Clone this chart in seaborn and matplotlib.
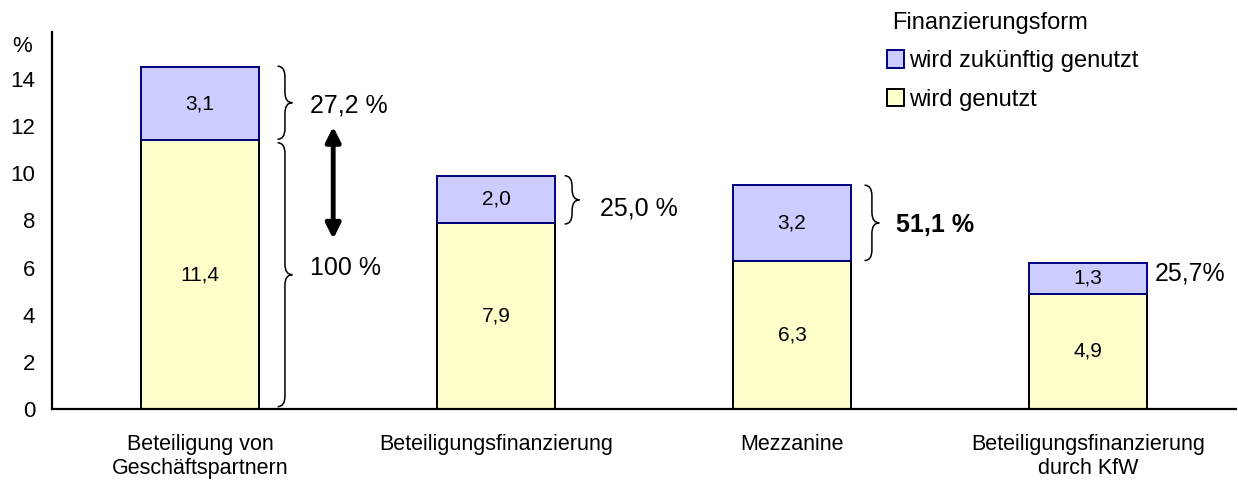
import numpy as np
import pandas as pd
import matplotlib
matplotlib.use("Agg")
import matplotlib.pyplot as plt
from matplotlib.path import Path
from matplotlib.patches import PathPatch, Patch
import seaborn as sns

# ---------- DATA ----------
categories = ["Beteiligung von\nGeschäftspartnern", "Beteiligungsfinanzierung",
              "Mezzanine", "Beteiligungsfinanzierung\ndurch KfW"]
used = [11.4, 7.9, 6.3, 4.9]
future = [3.1, 2.0, 3.2, 1.3]
growth_labels = ["27,2 %", "25,0 %", "51,1 %", "25,7%"]

df = pd.DataFrame({"cat": categories, "used": used, "future": future})
df["total"] = df["used"] + df["future"]

YELLOW = "#FFFFCC"
PURPLE = "#CCCCFF"
NAVY = "#000080"

sns.set_style("white")
plt.rcParams["font.family"] = ["Liberation Sans", "DejaVu Sans"]
plt.rcParams["text.color"] = "black"
plt.rcParams["xtick.color"] = "black"
plt.rcParams["ytick.color"] = "black"

fig = plt.figure(figsize=(12.38, 4.83), dpi=100)
ax = fig.add_axes([52 / 1238, 74 / 483, 1184 / 1238, (409 - 32) / 483])

# totals (purple) behind, used (yellow) in front
sns.barplot(data=df, x="cat", y="total", color=PURPLE, edgecolor=NAVY,
            linewidth=1.4, width=0.4, saturation=1, ax=ax, zorder=1)
sns.barplot(data=df, x="cat", y="used", color=YELLOW, edgecolor="black",
            linewidth=1.4, width=0.4, saturation=1, ax=ax, zorder=2)

# navy separator between segments
for i, p in enumerate(ax.patches[len(df):]):
    ax.plot([p.get_x(), p.get_x() + p.get_width()], [used[i], used[i]],
            color=NAVY, lw=1.4, zorder=3, solid_capstyle="butt")

# value labels
for i in range(len(df)):
    ax.text(i, used[i] / 2, f"{used[i]:.1f}".replace(".", ","), ha="center",
            va="center", fontsize=15)
    ax.text(i, used[i] + future[i] / 2, f"{future[i]:.1f}".replace(".", ","),
            ha="center", va="center", fontsize=15)


def brace(x0, y0, y1, w=0.05, r=0.45):
    ym = (y0 + y1) / 2
    xm = x0 + w / 2
    verts = [(x0, y1), (xm, y1), (xm, y1 - r),
             (xm, ym + r),
             (xm, ym), (x0 + w, ym),
             (xm, ym), (xm, ym - r),
             (xm, y0 + r),
             (xm, y0), (x0, y0)]
    codes = [Path.MOVETO, Path.CURVE3, Path.CURVE3,
             Path.LINETO,
             Path.CURVE3, Path.CURVE3,
             Path.CURVE3, Path.CURVE3,
             Path.LINETO,
             Path.CURVE3, Path.CURVE3]
    ax.add_patch(PathPatch(Path(verts, codes), fill=False, lw=1.1,
                           color="black", clip_on=False))


# braces and growth annotations
brace(0.262, used[0] + 0.05, used[0] + future[0] + 0.05)
brace(0.262, 0.1, used[0] - 0.1)
brace(1.232, used[1] - 0.05, used[1] + future[1])
brace(2.245, used[2], used[2] + future[2])

ax.text(0.37, 12.9, growth_labels[0], fontsize=18, va="center")
ax.text(0.37, 6.0, "100 %", fontsize=18, va="center")
ax.text(1.35, 8.5, growth_labels[1], fontsize=18, va="center")
ax.text(2.35, 7.8, growth_labels[2], fontsize=18, va="center", fontweight="bold")
ax.text(3.225, 5.75, growth_labels[3], fontsize=18, va="center")

ax.annotate("", xy=(0.45, 12.1), xytext=(0.45, 7.1),
            arrowprops=dict(arrowstyle="<|-|>", color="black", lw=3.5,
                            mutation_scale=22))

# axes styling
ax.set_ylim(0, 16)
ax.set_xlim(-0.5, 3.5)
ax.set_yticks(range(0, 16, 2))
ax.set_xticks(range(len(categories)))
ax.set_xticklabels(categories, fontsize=15.5)
ax.set_xticks(np.arange(-0.5, 4, 1), minor=True)
ax.tick_params(axis="x", which="major", length=0, pad=18)
ax.tick_params(axis="x", which="minor", length=6, width=1.4, direction="out",
               color="black")
ax.tick_params(axis="y", length=6, width=1.4, direction="out", color="black",
               labelsize=16, pad=6)
ax.set_xlabel("")
ax.set_ylabel("")
for s in ["top", "right"]:
    ax.spines[s].set_visible(False)
for s in ["left", "bottom"]:
    ax.spines[s].set_color("black")
    ax.spines[s].set_linewidth(1.6)

fig.text(22 / 1238, 1 - 46 / 483, "%", fontsize=16, ha="center", va="center")

handles = [Patch(facecolor=PURPLE, edgecolor=NAVY, lw=1.4, label="wird zukünftig genutzt"),
           Patch(facecolor=YELLOW, edgecolor="black", lw=1.4, label="wird genutzt")]
leg = fig.legend(handles=handles, title="Finanzierungsform", loc="upper left",
                 bbox_to_anchor=(870 / 1238, 1.01), frameon=False, fontsize=17,
                 title_fontsize=17, handlelength=0.75, handleheight=0.75,
                 handletextpad=0.2, labelspacing=0.7, alignment="left",
                 borderaxespad=0.3)
leg.get_title().set_position((6, 0))

fig.savefig("out.png", dpi=100)
